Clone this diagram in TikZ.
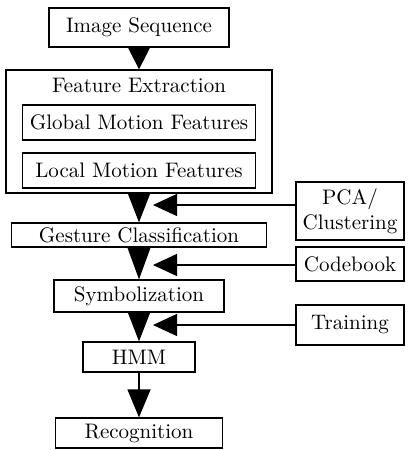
\documentclass[tikz,border=0pt]{standalone}
\usetikzlibrary{positioning,arrows.meta}
\begin{document}
\begin{tikzpicture}[x=0.5pt, y=-0.5pt, font=\fontsize{10.5}{12.5}\selectfont,
    block/.style={draw, rectangle, line width=0.6pt, inner sep=1pt, align=center},
    flow/.style={-{Triangle[length=#1, width=11.5pt]}, line width=0.6pt},
    feed/.style={-{Triangle[length=12pt, width=11pt]}, line width=0.6pt}]

    \useasboundingbox (0,0) rectangle (410,450);

    % Nodes
    \node [block, minimum width=90pt, minimum height=19.5pt] (image_sequence) at (139,27.5) {Image Sequence};
    \node [block, below of=image_sequence, node distance=52pt, minimum width=133pt, minimum height=61.5pt] (feature_extraction) {};
    \node [above of=feature_extraction, node distance=23.25pt] (feature_title) {Feature Extraction};
    \node [block, above of=feature_extraction, node distance=4.5pt, minimum width=116.5pt, minimum height=17.5pt] (global_motion) {Global Motion Features};
    \node [block, below of=global_motion, node distance=24pt, minimum width=116.5pt, minimum height=17.5pt] (local_motion) {Local Motion Features};
    \node [block, below of=feature_extraction, node distance=51.75pt, minimum width=127.5pt, minimum height=12pt] (gesture_classification) {Gesture Classification};
    \node [block, below of=gesture_classification, node distance=30.5pt, minimum width=85pt, minimum height=16pt] (symbolization) {Symbolization};
    \node [block, below of=symbolization, node distance=30.5pt, minimum width=56pt, minimum height=15pt] (hmm) {HMM};
    \node [block, below of=hmm, node distance=38pt, minimum width=83.5pt, minimum height=15pt] (recognition) {Recognition};

    % Side inputs
    \node [block, minimum width=54pt, minimum height=29pt] (pca_clustering) at (350,211) {PCA/\\Clustering};
    \node [block, minimum width=54pt, minimum height=17pt] (codebook) at (350,264) {Codebook};
    \node [block, minimum width=54pt, minimum height=20pt] (training) at (350,325) {Training};
    \coordinate (pca_in) at (153,205);
    \coordinate (codebook_in) at (153,265);
    \coordinate (training_in) at (153,325);

    % Arrows
    \draw[flow=11.5pt] (image_sequence) -- (feature_extraction);
    \draw[flow=15pt] (feature_extraction) -- (gesture_classification);
    \draw[flow=16pt] (gesture_classification) -- (symbolization);
    \draw[flow=15pt] (symbolization) -- (hmm);
    \draw[flow=14pt] (hmm) -- (recognition);
    \draw[feed] (pca_clustering.west |- pca_in) -- (pca_in);
    \draw[feed] (codebook.west |- codebook_in) -- (codebook_in);
    \draw[feed] (training.west |- training_in) -- (training_in);
\end{tikzpicture}
\end{document}
